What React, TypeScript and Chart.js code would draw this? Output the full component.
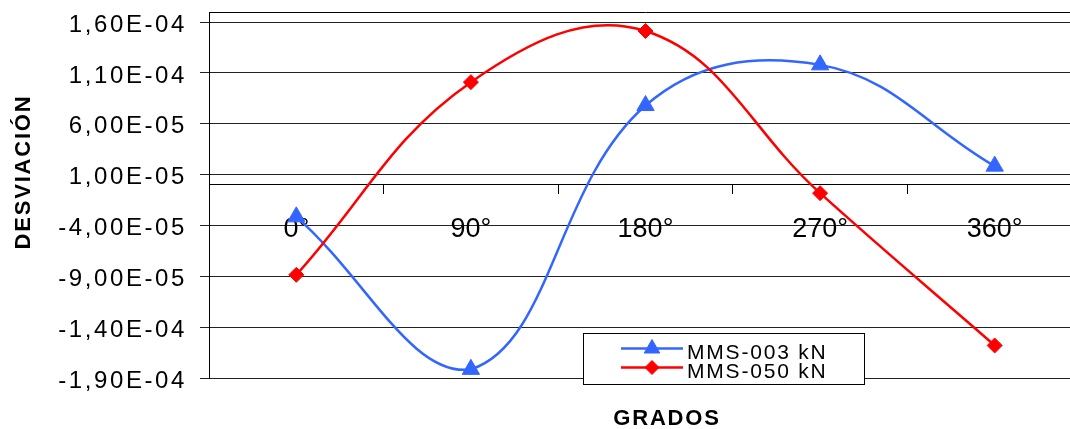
import React, { useEffect, useRef } from 'react';
import { Chart, registerables } from 'chart.js';

Chart.register(...registerables);

// ---- data ----
const categories = ['0°', '90°', '180°', '270°', '360°'];
const mms003 = [-3.15e-5, -1.815e-4, 7.8e-5, 1.18e-4, 1.84e-5];
const mms050 = [-8.85e-5, 1.01e-4, 1.513e-4, -8.2e-6, -1.58e-4];
const seriesLabels = ['MMS-003 kN', 'MMS-050 kN'];
const yTickValues = [-1.9e-4, -1.4e-4, -9e-5, -4e-5, 1e-5, 6e-5, 1.1e-4, 1.6e-4];
const yMin = -1.9e-4;
const yMax = 1.7e-4;
const yTitle = 'DESVIACIÓN';
const xTitle = 'GRADOS';

const FONT = "'Liberation Sans', Arial, Helvetica, sans-serif";
const BLUE = '#3366FF';
const RED = '#FF0000';

function fmtSci(v: number): string {
  const [m, e] = v.toExponential(2).split('e');
  const n = parseInt(e, 10);
  const sign = n < 0 ? '-' : '+';
  return m.replace('.', ',') + 'E' + sign + String(Math.abs(n)).padStart(2, '0');
}

function drawMarker(ctx: CanvasRenderingContext2D, style: string, x: number, y: number, r: number, color: string) {
  ctx.save();
  ctx.fillStyle = color;
  ctx.strokeStyle = color;
  ctx.lineWidth = 1;
  ctx.beginPath();
  if (style === 'triangle') {
    ctx.moveTo(x, y - r);
    ctx.lineTo(x + r * 0.866, y + r / 2);
    ctx.lineTo(x - r * 0.866, y + r / 2);
  } else {
    ctx.moveTo(x - r, y);
    ctx.lineTo(x, y - r);
    ctx.lineTo(x + r, y);
    ctx.lineTo(x, y + r);
  }
  ctx.closePath();
  ctx.fill();
  ctx.stroke();
  ctx.restore();
}

const decorPlugin = {
  id: 'decor',
  beforeDraw(chart: any) {
    const y = chart.scales.y;
    if (y && !y.__patched) {
      const orig = y.drawLabels.bind(y);
      y.drawLabels = (ca: any) => {
        const ctx = chart.ctx as any;
        ctx.save();
        ctx.letterSpacing = '2.6px';
        orig(ca);
        ctx.restore();
      };
      y.__patched = true;
    }
  },
  beforeDatasetsDraw(chart: any) {
    const { ctx, chartArea } = chart;
    ctx.save();
    ctx.strokeStyle = '#000';
    ctx.lineWidth = 1;
    ctx.beginPath();
    ctx.moveTo(chartArea.left, chartArea.top + 0.5);
    ctx.lineTo(chartArea.right, chartArea.top + 0.5);
    ctx.stroke();
    ctx.restore();
  },
  afterDraw(chart: any) {
    const ctx = chart.ctx as any;
    // axis titles
    ctx.save();
    ctx.fillStyle = '#000';
    ctx.font = `bold 22px ${FONT}`;
    ctx.letterSpacing = '1.8px';
    ctx.textAlign = 'center';
    ctx.textBaseline = 'middle';
    ctx.fillText(xTitle, 667, 419);
    ctx.translate(24, 172);
    ctx.rotate(-Math.PI / 2);
    ctx.fillText(yTitle, 0, 0);
    ctx.restore();

    // legend
    const bx = 583, by = 333, bw = 281, bh = 51;
    ctx.save();
    ctx.fillStyle = '#fff';
    ctx.fillRect(bx, by, bw, bh);
    ctx.strokeStyle = '#000';
    ctx.lineWidth = 1;
    ctx.strokeRect(bx + 0.5, by + 0.5, bw, bh);
    chart.data.datasets.forEach((ds: any, i: number) => {
      const ly = 348.5 + i * 19;
      ctx.strokeStyle = ds.borderColor;
      ctx.lineWidth = 2.5;
      ctx.beginPath();
      ctx.moveTo(621, ly);
      ctx.lineTo(683, ly);
      ctx.stroke();
      drawMarker(ctx, ds.pointStyle, 652, ly, ds.pointStyle === 'triangle' ? 9 : 7, ds.borderColor);
      ctx.fillStyle = '#000';
      ctx.font = `21px ${FONT}`;
      ctx.letterSpacing = '1.8px';
      ctx.textAlign = 'left';
      ctx.textBaseline = 'middle';
      ctx.fillText(ds.label, 687, ly + 5);
    });
    ctx.restore();
  },
};

export default function App() {
  const ref = useRef<HTMLCanvasElement>(null);

  useEffect(() => {
    if (!ref.current) return;
    const chart = new Chart(ref.current, {
      type: 'line',
      data: {
        labels: categories,
        datasets: [
          {
            label: seriesLabels[0],
            data: mms003,
            borderColor: BLUE,
            backgroundColor: BLUE,
            pointBackgroundColor: BLUE,
            pointBorderColor: BLUE,
            pointStyle: 'triangle',
            pointRadius: 10,
            pointBorderWidth: 1,
            borderWidth: 2.5,
            tension: 0.4,
            fill: false,
            order: 1,
          },
          {
            label: seriesLabels[1],
            data: mms050,
            borderColor: RED,
            backgroundColor: RED,
            pointBackgroundColor: RED,
            pointBorderColor: RED,
            pointStyle: 'rectRot',
            pointRadius: 7.5,
            pointBorderWidth: 1,
            borderWidth: 2.5,
            tension: 0.4,
            fill: false,
            order: 0,
          },
        ],
      },
      options: {
        responsive: false,
        animation: false,
        layout: { padding: { top: 12, bottom: 51, left: 0, right: 0 } },
        plugins: {
          legend: { display: false },
          tooltip: { enabled: false },
        },
        scales: {
          x: {
            type: 'category',
            position: { y: 0 } as any,
            offset: true,
            afterFit: (s: any) => {
              s.paddingLeft = 0;
              s.paddingRight = 0;
            },
            grid: {
              offset: true,
              drawOnChartArea: false,
              drawTicks: true,
              tickLength: 9,
              color: '#000',
              lineWidth: 1,
            },
            border: { display: true, color: '#000', width: 1 },
            ticks: {
              padding: 20,
              color: '#000',
              font: { family: FONT, size: 27 },
              maxRotation: 0,
              autoSkip: false,
            },
          },
          y: {
            type: 'linear',
            min: yMin,
            max: yMax,
            afterBuildTicks: (s: any) => {
              s.ticks = yTickValues.map((v) => ({ value: v }));
            },
            afterFit: (s: any) => {
              s.width = 209;
              s.paddingTop = 0;
              s.paddingBottom = 0;
            },
            grid: { color: '#222', lineWidth: 1, tickLength: 9, drawTicks: true },
            border: { display: true, color: '#000', width: 1 },
            ticks: {
              callback: (v: any) => fmtSci(Number(v)),
              padding: 13,
              color: '#000',
              labelOffset: 3,
              font: { family: FONT, size: 24 },
            },
          },
        },
      },
      plugins: [decorPlugin],
    } as any);
    return () => chart.destroy();
  }, []);

  return (
    <div
      style={{
        position: 'absolute',
        left: 0,
        top: 0,
        width: 1070,
        height: 429,
        overflow: 'hidden',
        background: '#fff',
      }}
    >
      <canvas ref={ref} width={1093} height={429} style={{ display: 'block' }} />
    </div>
  );
}
